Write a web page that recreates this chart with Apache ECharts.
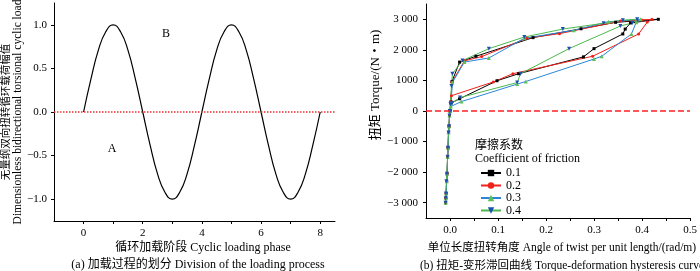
<!DOCTYPE html>
<html>
<head>
    <meta charset="utf-8">
    <title>加载过程与滞回曲线</title>
    <script src="https://cdn.jsdelivr.net/npm/echarts@6/dist/echarts.min.js"></script>
</head>
<body style="margin:0">
    <div id="main" style="width: 700px;height:271px;"></div>
    <script type="text/javascript">
        // (a) 循环加载阶段 / 无量纲幅值
        var phase = [0, 0.25, 0.5, 0.75, 1, 1.25, 1.5, 1.75, 2, 2.25, 2.5, 2.75, 3, 3.25, 3.5, 3.75, 4,
                     4.25, 4.5, 4.75, 5, 5.25, 5.5, 5.75, 6, 6.25, 6.5, 6.75, 7, 7.25, 7.5, 7.75, 8];
        var load = [0, 0.38, 0.71, 0.92, 1, 0.92, 0.71, 0.38, 0, -0.38, -0.71, -0.92, -1, -0.92, -0.71, -0.38, 0,
                    0.38, 0.71, 0.92, 1, 0.92, 0.71, 0.38, 0, -0.38, -0.71, -0.92, -1, -0.92, -0.71, -0.38, 0];
        var phaseLabels = [0, 2, 4, 6, 8];
        var loadLabels = [-1, -0.5, 0, 0.5, 1];

        // (b) 摩擦系数 & 扭矩-变形 [角度 rad/m, 扭矩 N·m]
        var frictionNames = ['0.1', '0.2', '0.3', '0.4'];
        var curve01 = [[-0.009,-3000],[-0.0085,-2850],[-0.008,-2700],[-0.007,-2300],[-0.006,-2050],[-0.005,-1500],
            [-0.004,-1200],[-0.003,-700],[-0.002,-500],[-0.001,-150],[0,0],[0.002,300],[0.004,960],[0.020,1600],
            [0.054,1790],[0.173,2400],[0.273,2690],[0.345,2900],[0.434,3000],[0.376,2880],[0.365,2680],[0.360,2520],
            [0.300,2040],[0.278,1770],[0.143,1220],[0.098,990],[0.020,400],[0.002,260],[0,0]];
        var curve02 = [[-0.0095,-3000],[-0.009,-2850],[-0.008,-2700],[-0.007,-2300],[-0.006,-2050],[-0.005,-1500],
            [-0.004,-1200],[-0.003,-700],[-0.002,-500],[-0.001,-150],[0,0],[0.002,300],[0.004,940],[0.030,1640],
            [0.066,1780],[0.160,2380],[0.228,2530],[0.355,2940],[0.400,2980],[0.421,3000],[0.411,2910],[0.393,2520],
            [0.297,1790],[0.131,1220],[0.090,950],[0.003,500],[0.001,280],[0,0]];
        var curve03 = [[-0.0092,-3000],[-0.0088,-2850],[-0.008,-2700],[-0.007,-2300],[-0.006,-2050],[-0.005,-1500],
            [-0.004,-1200],[-0.003,-700],[-0.002,-500],[-0.001,-150],[0,0],[0.002,250],[0.005,930],[0.030,1600],
            [0.081,1735],[0.155,2380],[0.258,2640],[0.330,2920],[0.397,3000],[0.388,2900],[0.378,2520],[0.316,1790],
            [0.300,1700],[0.158,965],[0.140,880],[0.024,310],[0.002,150],[0,0]];
        var curve04 = [[-0.0093,-3000],[-0.009,-2850],[-0.0085,-2700],[-0.0075,-2300],[-0.0065,-2050],[-0.005,-1500],
            [-0.0045,-1200],[-0.003,-700],[-0.002,-500],[-0.001,-150],[0,0],[0.001,220],[0.003,820],[0.005,1220],
            [0.026,1650],[0.081,2040],[0.155,2420],[0.235,2680],[0.320,2870],[0.360,2970],[0.390,3000],[0.380,2880],
            [0.355,2780],[0.248,2040],[0.147,1220],[0.140,930],[0.021,440],[0.004,250],[0,0]];
        var angleLabels = [0, 0.1, 0.2, 0.3, 0.4, 0.5];
        var angleTicks = [0, 0.05, 0.1, 0.15, 0.2, 0.25, 0.3, 0.35, 0.4, 0.45, 0.5];
        var torqueTicks = [-3000, -2000, -1000, 0, 1000, 2000, 3000];
        var torqueLabels = ['−3 000', '−2 000', '−1 000', '0', '1000', '2 000', '3 000'];

        var serif = '"Liberation Serif", "Noto Sans CJK SC", serif';
        var axisCommon = {
            axisLine: { onZero: false, lineStyle: { color: '#000', width: 1 } },
            axisTick: { length: 3, lineStyle: { color: '#000' } },
            axisLabel: { color: '#000', fontSize: 11, fontFamily: serif },
            splitLine: { show: false }
        };
        function ax(extra) {
            return echarts.util.merge(echarts.util.clone(axisCommon), extra, true);
        }

        var myChart = echarts.init(document.getElementById('main'));
        myChart.setOption({
            animation: false,
            grid: [
                { left: 54, top: 3, width: 281, height: 218 },
                { left: 426, top: 4, width: 264, height: 214 }
            ],
            xAxis: [
                ax({ type: 'value', gridIndex: 0, min: -1, max: 8.5,
                     axisTick: { customValues: [0, 1, 2, 3, 4, 5, 6, 7, 8] },
                     axisLabel: { customValues: phaseLabels, margin: 7 } }),
                ax({ type: 'value', gridIndex: 1, min: -0.05, max: 0.5,
                     axisTick: { customValues: angleTicks },
                     axisLabel: { customValues: angleLabels, margin: 7,
                                  formatter: function (v) { return v.toFixed(1); } } })
            ],
            yAxis: [
                ax({ type: 'value', gridIndex: 0, min: -1.25, max: 1.25,
                     axisTick: { customValues: loadLabels },
                     axisLabel: { customValues: loadLabels, margin: 7,
                                  formatter: function (v) { return v.toFixed(1).replace('-', '−'); } } }),
                ax({ type: 'value', gridIndex: 1, min: -3500, max: 3500,
                     axisTick: { customValues: torqueTicks },
                     axisLabel: { customValues: torqueTicks, margin: 8,
                                  formatter: function (v) { return torqueLabels[torqueTicks.indexOf(Math.round(v))]; } } })
            ],
            legend: {
                data: frictionNames,
                orient: 'vertical',
                left: 480,
                top: 167,
                padding: 0,
                itemWidth: 20,
                itemHeight: 8,
                itemGap: 0.5,
                textStyle: { fontSize: 12, fontFamily: serif, color: '#000', lineHeight: 11 }
            },
            graphic: [
                { type: 'text', x: 6, y: 112, rotation: Math.PI / 2,
                  style: { text: '无量纲双向扭转循环载荷幅值', font: '10.5px ' + serif, fill: '#000', align: 'center', verticalAlign: 'middle' } },
                { type: 'text', x: 18, y: 112, rotation: Math.PI / 2,
                  style: { text: 'Dimensionless bidirectional torsional cyclic load', font: '11.5px ' + serif, fill: '#000', align: 'center', verticalAlign: 'middle' } },
                { type: 'text', x: 203, y: 248,
                  style: { text: '循环加载阶段 Cyclic loading phase', font: '12px ' + serif, fill: '#000', align: 'center', verticalAlign: 'middle' } },
                { type: 'text', x: 198, y: 265,
                  style: { text: '(a) 加载过程的划分 Division of the loading process', font: '12px ' + serif, fill: '#000', align: 'center', verticalAlign: 'middle' } },
                { type: 'text', x: 112, y: 149,
                  style: { text: 'A', font: '12px ' + serif, fill: '#000', align: 'center', verticalAlign: 'middle' } },
                { type: 'text', x: 166, y: 34,
                  style: { text: 'B', font: '12px ' + serif, fill: '#000', align: 'center', verticalAlign: 'middle' } },
                { type: 'text', x: 376, y: 85, rotation: Math.PI / 2,
                  style: { text: '扭矩 Torque/(N・m)', font: '13px ' + serif, fill: '#000', align: 'center', verticalAlign: 'middle' } },
                { type: 'text', x: 562, y: 248,
                  style: { text: '单位长度扭转角度 Angle of twist per unit length/(rad/m)', font: '11.5px ' + serif, fill: '#000', align: 'center', verticalAlign: 'middle' } },
                { type: 'text', x: 562, y: 266,
                  style: { text: '(b) 扭矩-变形滞回曲线 Torque-deformation hysteresis curve', font: '11.5px ' + serif, fill: '#000', align: 'center', verticalAlign: 'middle' } },
                { type: 'text', x: 475, y: 146,
                  style: { text: '摩擦系数', font: '12px ' + serif, fill: '#000', verticalAlign: 'middle' } },
                { type: 'text', x: 475, y: 159,
                  style: { text: 'Coefficient of friction', font: '12px ' + serif, fill: '#000', verticalAlign: 'middle' } }
            ],
            series: [
                {
                    type: 'line', xAxisIndex: 0, yAxisIndex: 0,
                    data: phase.map(function (p, i) { return [p, load[i]]; }),
                    smooth: true, showSymbol: false,
                    lineStyle: { color: '#000', width: 1.2 },
                    markLine: { silent: true, symbol: 'none', label: { show: false },
                                lineStyle: { color: '#ee3333', type: 'dotted', width: 1.5 },
                                data: [{ yAxis: 0 }] }
                },
                {
                    name: '0.1', type: 'line', xAxisIndex: 1, yAxisIndex: 1, data: curve01,
                    symbol: 'rect', symbolSize: 3,
                    lineStyle: { color: '#000', width: 1 }, itemStyle: { color: '#000' }
                },
                {
                    name: '0.2', type: 'line', xAxisIndex: 1, yAxisIndex: 1, data: curve02,
                    symbol: 'circle', symbolSize: 3,
                    lineStyle: { color: '#f0201a', width: 1 }, itemStyle: { color: '#f0201a' },
                    markLine: { silent: true, symbol: 'none', label: { show: false },
                                lineStyle: { color: '#ff2020', type: 'dashed', width: 1.5, opacity: 1 },
                                data: [{ yAxis: 0 }] }
                },
                {
                    name: '0.3', type: 'line', xAxisIndex: 1, yAxisIndex: 1, data: curve03,
                    symbol: 'triangle', symbolSize: 4,
                    lineStyle: { color: '#2a86d8', width: 1 }, itemStyle: { color: '#5cc05a' }
                },
                {
                    name: '0.4', type: 'line', xAxisIndex: 1, yAxisIndex: 1, data: curve04,
                    symbol: 'triangle', symbolRotate: 180, symbolSize: 4,
                    lineStyle: { color: '#4cb84a', width: 1 }, itemStyle: { color: '#1c4fb0' }
                }
            ]
        });
    </script>
</body>
</html>
